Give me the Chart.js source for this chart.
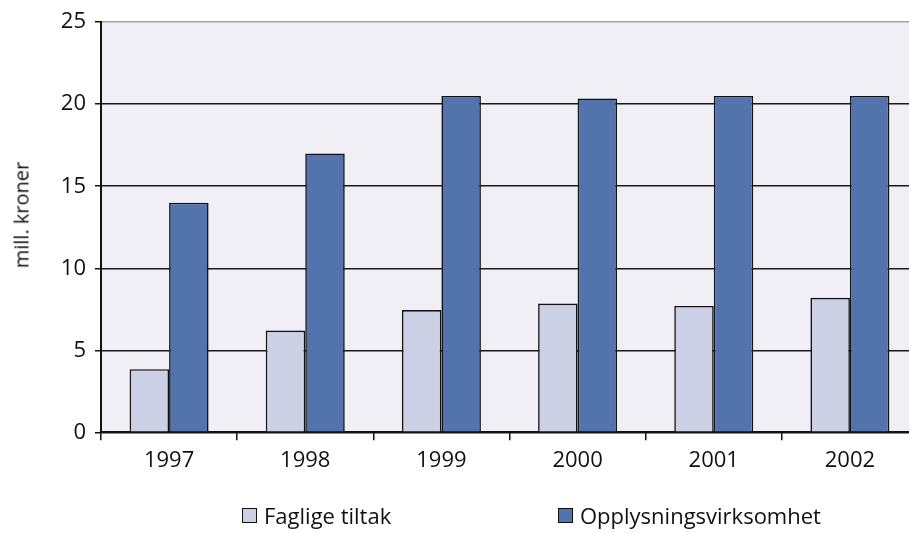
<!DOCTYPE html>
<html>
<head>
<meta charset="utf-8">
<script src="https://cdn.jsdelivr.net/npm/chart.js@4.4.0/dist/chart.umd.min.js"></script>
<style>
  html, body { margin: 0; padding: 0; background: #ffffff; overflow: hidden; width: 909px; height: 533px; }
  #wrap { position: absolute; left: 0; top: 0; width: 920px; height: 533px; }
  #ytitle { position: absolute; left: 21px; top: 215px; transform: translate(-50%, -50%) rotate(-90deg);
            font-family: "Open Sans", sans-serif; font-size: 20px; color: #111; white-space: nowrap; }
  .leg { position: absolute; top: 503px; height: 24px; line-height: 24px; display: flex; align-items: center;
         font-family: "Open Sans", sans-serif; font-size: 22px; color: #111; white-space: nowrap; }
  .leg .box { width: 13px; height: 13px; border: 1.5px solid #111; margin-right: 7px; }
</style>
</head>
<body>
<div id="wrap"><canvas id="c" width="920" height="533"></canvas></div>
<div id="ytitle">mill. kroner</div>
<div class="leg" style="left:242px"><span class="box" style="background:#cbd0e5"></span><span>Faglige tiltak</span></div>
<div class="leg" style="left:558px"><span class="box" style="background:#5273ab"></span><span>Opplysningsvirksomhet</span></div>
<script>
const categories = ["1997", "1998", "1999", "2000", "2001", "2002"];
const seriesNames = ["Faglige tiltak", "Opplysningsvirksomhet"];
const fagligeTiltak = [3.85, 6.2, 7.45, 7.85, 7.7, 8.2];
const opplysningsvirksomhet = [14.0, 17.0, 20.5, 20.35, 20.5, 20.5];
const yTicks = [0, 5, 10, 15, 20, 25];

const plotBg = {
  id: 'plotBg',
  beforeDraw(chart) {
    const { ctx, chartArea: a } = chart;
    ctx.save();
    ctx.fillStyle = '#efeff5';
    ctx.fillRect(a.left, a.top, a.right - a.left, a.bottom - a.top);
    ctx.restore();
  }
};

new Chart(document.getElementById('c'), {
  type: 'bar',
  data: {
    labels: categories,
    datasets: [
      { label: seriesNames[0], data: fagligeTiltak, backgroundColor: '#cbd0e5', borderColor: '#111', borderWidth: 1.6 },
      { label: seriesNames[1], data: opplysningsvirksomhet, backgroundColor: '#5273ab', borderColor: '#111', borderWidth: 1.6 }
    ]
  },
  options: {
    responsive: false,
    devicePixelRatio: 1,
    animation: false,
    layout: { padding: { top: 16, left: 0, right: 2, bottom: 0 } },
    datasets: { bar: { categoryPercentage: 0.58, barPercentage: 1.0 } },
    plugins: { legend: { display: false }, tooltip: { enabled: false } },
    scales: {
      x: {
        offset: true,
        grid: { offset: true, drawOnChartArea: false, drawTicks: true, tickLength: 8, color: '#111', lineWidth: 1.5 },
        border: { display: true, color: '#111', width: 2 },
        ticks: { color: '#111', padding: 7, font: { family: 'Open Sans', size: 22 } },
        afterFit(scale) { scale.height = 100.7; }
      },
      y: {
        min: 0, max: 25,
        afterBuildTicks(scale) { scale.ticks = yTicks.map(v => ({ value: v })); },
        grid: {
          drawTicks: true, tickLength: 6,
          color: ctx => (ctx.tick && ctx.tick.value === 25) ? '#a3a3a3' : '#1a1a1a',
          tickColor: '#111',
          lineWidth: 1.5
        },
        border: { display: true, color: '#111', width: 2 },
        ticks: { color: '#111', padding: 9, font: { family: 'Open Sans', size: 22 } },
        afterFit(scale) { scale.width = 101; }
      }
    }
  },
  plugins: [plotBg]
});
</script>
</body>
</html>
